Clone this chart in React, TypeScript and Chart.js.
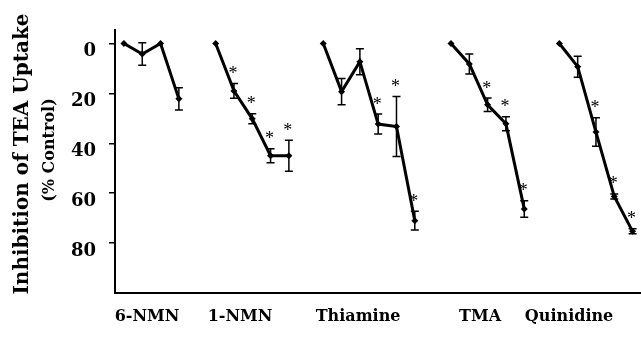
import React, { useEffect, useRef } from 'react';
import { Chart, registerables } from 'chart.js';

Chart.register(...registerables);

// ---- data ----
const categories = ['6-NMN', '1-NMN', 'Thiamine', 'TMA', 'Quinidine'];

const nmn6 = [0, 4.2, 0, 22.2];
const nmn6Err = [0, 4.5, 0, 4.5];
const nmn6Sig = [0, 0, 0, 0];

const nmn1 = [0, 19, 30.2, 45, 45];
const nmn1Err = [0, 3, 2, 2.8, 6.2];
const nmn1Sig = [0, 1, 1, 1, 1];

const thiamine = [0, 19.3, 7.3, 32.3, 33.3, 71];
const thiamineErr = [0, 5.3, 5.2, 4, 12, 3.8];
const thiamineSig = [0, 0, 0, 1, 1, 1];

const tma = [0, 8.2, 24.6, 32.2, 66.3];
const tmaErr = [0, 4, 2.7, 2.8, 3.3];
const tmaSig = [0, 0, 1, 1, 1];

const quinidine = [0, 9.3, 35.5, 61.3, 75.3];
const quinidineErr = [0, 4.2, 5.7, 1, 1];
const quinidineSig = [0, 0, 1, 1, 1];

const yTickValues = [0, 20, 40, 60, 80];

const yTitle = 'Inhibition of TEA Uptake';
const ySubTitle = '(% Control)';

// ---- layout (x-axis units) ----
const groupStart = [0.49, 5.5, 11.38, 18.36, 24.28];
const labelCenter = [1.75, 6.83, 13.28, 19.95, 24.81];
const X_MAX = 28.74;

const seriesValues = [nmn6, nmn1, thiamine, tma, quinidine];
const seriesErr = [nmn6Err, nmn1Err, thiamineErr, tmaErr, quinidineErr];
const seriesSig = [nmn6Sig, nmn1Sig, thiamineSig, tmaSig, quinidineSig];

const SERIF_BOLD = 'DejaVu Serif';

const extrasPlugin = {
  id: 'extras',
  afterDatasetsDraw(chart: any) {
    const ctx = chart.ctx;
    const xs = chart.scales.x;
    const ys = chart.scales.y;
    ctx.save();
    ctx.strokeStyle = '#000';
    ctx.fillStyle = '#000';
    ctx.lineWidth = 1.5;
    seriesValues.forEach((vals, g) => {
      vals.forEach((v, i) => {
        const e = seriesErr[g][i];
        const px = xs.getPixelForValue(groupStart[g] + i);
        const top = ys.getPixelForValue(v - e);
        const bot = ys.getPixelForValue(v + e);
        if (e > 0) {
          ctx.beginPath();
          ctx.moveTo(px, top);
          ctx.lineTo(px, bot);
          ctx.moveTo(px - 4, top);
          ctx.lineTo(px + 4, top);
          ctx.moveTo(px - 4, bot);
          ctx.lineTo(px + 4, bot);
          ctx.stroke();
        }
        if (seriesSig[g][i]) {
          ctx.font = '18px "Liberation Serif"';
          ctx.textAlign = 'center';
          ctx.textBaseline = 'alphabetic';
          ctx.fillText('*', px - 1, top - 13 + 8.5);
        }
      });
    });
    ctx.restore();
  },
  afterDraw(chart: any) {
    const ctx = chart.ctx;
    ctx.save();
    ctx.fillStyle = '#000';
    ctx.textAlign = 'center';
    ctx.textBaseline = 'middle';
    ctx.translate(23, 154);
    ctx.rotate(-Math.PI / 2);
    ctx.font = `bold 20px "${SERIF_BOLD}"`;
    ctx.fillText(yTitle, 0, 0);
    ctx.restore();
    ctx.save();
    ctx.fillStyle = '#000';
    ctx.textAlign = 'center';
    ctx.textBaseline = 'middle';
    ctx.translate(50, 150);
    ctx.rotate(-Math.PI / 2);
    ctx.font = `bold 16px "${SERIF_BOLD}"`;
    ctx.fillText(ySubTitle, 0, 0);
    ctx.restore();
  },
};

export default function App() {
  const ref = useRef<HTMLCanvasElement | null>(null);
  useEffect(() => {
    if (!ref.current) return;
    const datasets = seriesValues.map((vals, g) => ({
      label: categories[g],
      data: vals.map((v, i) => ({ x: groupStart[g] + i, y: v })),
      borderColor: '#000',
      backgroundColor: '#000',
      borderWidth: 3,
      pointStyle: 'rectRot',
      pointRadius: 3.5,
      pointBorderWidth: 0,
      tension: 0,
      clip: false,
    }));
    const chart = new Chart(ref.current, {
      type: 'line',
      data: { datasets } as any,
      plugins: [extrasPlugin],
      options: {
        animation: false,
        responsive: false,
        devicePixelRatio: 1,
        layout: { padding: { top: 30, right: 0, bottom: 0, left: 0 }, autoPadding: false },
        plugins: { legend: { display: false }, tooltip: { enabled: false } },
        scales: {
          x: {
            type: 'linear',
            min: 0,
            max: X_MAX,
            grid: { display: false, drawTicks: false },
            border: { display: true, color: '#000', width: 2 },
            afterBuildTicks: (s: any) => {
              s.ticks = labelCenter.map((v) => ({ value: v }));
            },
            afterFit: (s: any) => {
              s.height = 48;
            },
            ticks: {
              autoSkip: false,
              maxRotation: 0,
              padding: 14,
              color: '#000',
              font: { family: SERIF_BOLD, weight: 'bold', size: 16 },
              callback: (_v: any, i: number) => categories[i],
            },
          },
          y: {
            type: 'linear',
            reverse: true,
            min: -5.4,
            max: 100,
            afterBuildTicks: (s: any) => {
              s.ticks = yTickValues.map((v) => ({ value: v }));
            },
            afterFit: (s: any) => {
              s.width = 115;
            },
            grid: {
              display: true,
              drawOnChartArea: false,
              drawTicks: true,
              tickLength: 6,
              color: '#000',
              lineWidth: 1.5,
            },
            border: { display: true, color: '#000', width: 2 },
            ticks: {
              padding: 13,
              labelOffset: 8,
              color: '#000',
              font: { family: SERIF_BOLD, weight: 'bold', size: 18 },
              callback: (v: any) => String(v),
            },
          },
        },
      } as any,
    });
    return () => chart.destroy();
  }, []);
  return (
    <div style={{ position: 'absolute', left: 0, top: 0, width: 641, height: 341, background: '#fff' }}>
      <canvas ref={ref} width={641} height={341} style={{ width: 641, height: 341 }} />
    </div>
  );
}
